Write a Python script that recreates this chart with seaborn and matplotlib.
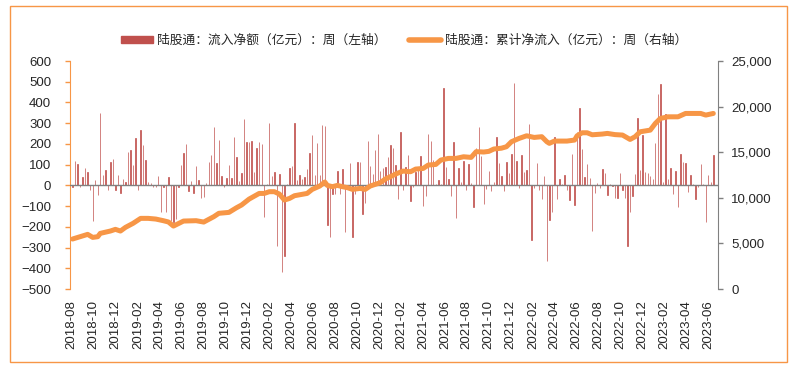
import numpy as np
import pandas as pd
import matplotlib.pyplot as plt
import matplotlib.dates as mdates
from matplotlib.ticker import FuncFormatter
from matplotlib.patches import Patch, Rectangle
from matplotlib.lines import Line2D
import seaborn as sns

# weekly net inflow (left axis), first week 2018-08-03
start_week = '2018-08-03'
weekly_flow = [
    -8, 116, 101, -8, 39, 82, 63, -20, -174, 24, -47, 349, 48, 72, -24, 111, 125, -20, 48, -37,
    29, 14, 159, 169, 97, 227, -20, 266, 193, 121, 14, 10, -10, -8, 43, -129, -8, -129, 39, -172,
    -177, -164,
    -8, 97, 155, 198, -27, 19, -37, 92, 24, -61, -56, 10, 111, 145, 280, 106, 217, 43, -8, 34,
    97, 34, 232, 135, 19, 58, 319, 208, 208, 212, 63, 179, 208, 198, -153, 5, 299, 43, 63, -293,
    53, -419, -341,
    5, 82, 92, 299, 24, 48, 29, 39, 77, 155, 241, 48, 203, 48, 290, 285, -192, -250, -42, -42,
    68, -42, 77, -225, -10, 106, -250, -42, 111, 111, -138, -85, 212, 92, 53, 169, 246, 68, 82, 87,
    135, 193, 179,
    97, -66, 256, -20, 87, 145, -76, -8, 63, 87, 140, -100, -52, 246, 212, 121, 5, 24, 5, 468,
    87, 29, -52, 208, -158, 82, 14, 116, -23, 101, 10, -105, 179, 280, 140, -90, -18, 68, -27, 14,
    232, 106, 43, -27,
    111, 58, 150, 493, 116, -13, 145, 63, 72, 295, -266, -15, 106, -23, -66, 43, -365, -167, -129, 232,
    -66, 29, 5, 48, -23, -71, 150, -95, 256, 372, 174, 39, 101, 34, -221, -37, 10, -13, 77, 58,
    -47, 5, -5, -61,
    -61, 58, -23, -61, -293, -129, -52, 53, 324, 72, 241, 63, 58, 43, 29, 203, 440, 489, 15, 343,
    29, 82, -42, 68, -105, 150, 111, 106, -32, 48, 5, -66, -8, 101, 5, -177, 48, 14, 145,
]

# cumulative net inflow (right axis), read at these week numbers
cum_week = [0, 3, 6, 8, 10, 11, 15, 17, 19, 21, 24, 27, 30, 33, 36, 38, 40, 44, 49, 52,
            56, 58, 62, 65, 67, 70, 74, 76, 78, 80, 82, 84, 86, 88, 93, 95, 98, 100, 101, 103,
            105, 107, 109, 111, 114, 116, 118, 122, 124, 127, 128, 131, 134, 136, 139, 141, 144, 146, 149, 152,
            155, 158, 160, 163, 165, 167, 170, 172, 174, 177, 180, 183, 186, 188, 189, 191, 196, 199, 200, 202,
            204, 206, 210, 212, 215, 218, 221, 223, 225, 229, 231, 233, 236, 240, 243, 246, 249, 251, 254]
cum_value = [5480, 5735, 5990, 5660, 5735, 6100, 6356, 6540, 6356, 6760, 7200, 7745, 7745, 7670, 7490, 7350, 6900, 7450, 7490, 7340,
             7930, 8300, 8400, 8910, 9210, 9860, 10480, 10480, 10670, 10670, 10410, 9750, 9930, 10230, 10480, 10920, 11290, 11730, 11360, 11220,
             11360, 11220, 11110, 10920, 11030, 10920, 11290, 11660, 12060, 12450, 12600, 12930, 12860, 13150, 13220, 13590, 13660, 14140, 14320, 14320,
             14500, 14430, 15060, 15020, 15090, 15350, 15440, 15600, 16150, 16510, 16800, 16620, 16700, 16150, 15970, 16220, 16220, 16330, 16800, 17130,
             17130, 16910, 16990, 17060, 16930, 16880, 16400, 16700, 17240, 17420, 18150, 18700, 18880, 18880, 19250, 19250, 19250, 19070, 19250]

bar_label = '陆股通：流入净额（亿元）：周（左轴）'
line_label = '陆股通：累计净流入（亿元）：周（右轴）'

red = '#C0504D'
orange = '#F79646'
grey = '#808080'

sns.set_style('white')
plt.rcParams['font.family'] = ['Liberation Sans', 'Noto Sans CJK SC', 'DejaVu Sans']

weeks = pd.date_range(start_week, periods=len(weekly_flow), freq='7D')
xnum = mdates.date2num(weeks)

fig = plt.figure(figsize=(7.96, 3.68), dpi=100)
ax = fig.add_axes([70 / 796, 1 - 289 / 368, 648 / 796, 228 / 368])
ax2 = ax.twinx()

sns.barplot(x=xnum, y=weekly_flow, native_scale=True, color=red, saturation=1,
            width=0.15, errorbar=None, ax=ax, zorder=2, edgecolor=red, linewidth=0.5)
ax.axhline(0, color=grey, lw=1, zorder=3)

sns.lineplot(x=xnum[cum_week], y=cum_value, ax=ax2, color=orange, linewidth=3.6,
             legend=False)

ax.set_ylim(-500, 600)
ax.set_yticks(range(-500, 601, 100))
ax2.set_ylim(0, 25000)
ax2.set_yticks(range(0, 25001, 5000))
ax2.yaxis.set_major_formatter(FuncFormatter(lambda v, p: f'{v:,.0f}'))

ax.set_xlim(xnum[0] - 7, xnum[-1] + 13)
tick_months = pd.date_range('2018-08-01', '2023-06-01', freq='2MS')
ax.set_xticks(mdates.date2num(tick_months))
ax.set_xticklabels(tick_months.strftime('%Y-%m'), rotation=90, fontsize=9.5)
ax.tick_params(axis='x', length=0, pad=8)
ax.tick_params(axis='y', length=3.5, color=orange, labelsize=9.5, width=1, pad=10)
ax2.tick_params(axis='y', length=3.5, color=grey, labelsize=9.5, width=1, pad=6)
ax.set_xlabel('')
ax.set_ylabel('')
ax2.set_ylabel('')

for s in ['top', 'right', 'bottom']:
    ax.spines[s].set_visible(False)
ax.spines['left'].set_color(orange)
for s in ['top', 'left', 'bottom']:
    ax2.spines[s].set_visible(False)
ax2.spines['right'].set_color(grey)

handles = [Patch(color=red), Line2D([], [], color=orange, lw=4)]
fig.legend(handles, [bar_label, line_label], loc='center', bbox_to_anchor=(0.508, 0.89),
           ncol=2, frameon=False, handlelength=2.5, handleheight=0.5, handletextpad=0.3,
           columnspacing=1.8, prop={'family': ['Noto Sans CJK SC'], 'size': 9.2})

fig.patches.append(Rectangle((10 / 796, 6 / 368), 777 / 796, 356 / 368, transform=fig.transFigure,
                             fill=False, edgecolor=orange, lw=1))

fig.savefig('out.png', dpi=100)
